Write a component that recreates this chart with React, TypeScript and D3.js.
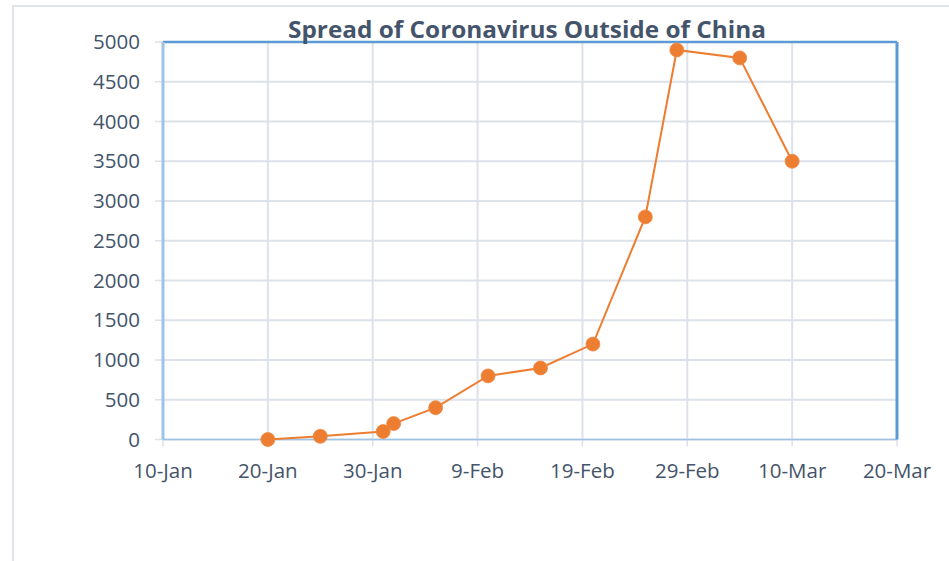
import React from "react";
import * as d3 from "d3";

const dates = ["2020-01-20", "2020-01-25", "2020-01-31", "2020-02-01", "2020-02-05", "2020-02-10", "2020-02-15", "2020-02-20", "2020-02-25", "2020-02-28", "2020-03-05", "2020-03-10"];
const cases = [0, 40, 100, 200, 400, 800, 900, 1200, 2800, 4900, 4800, 3500];
const yTicks = [0, 500, 1000, 1500, 2000, 2500, 3000, 3500, 4000, 4500, 5000];
const xTickDates = ["2020-01-10", "2020-01-20", "2020-01-30", "2020-02-09", "2020-02-19", "2020-02-29", "2020-03-10", "2020-03-20"];
const title = "Spread of Coronavirus Outside of China";

const parse = d3.utcParse("%Y-%m-%d");
const fmt = d3.utcFormat("%-d-%b");

export default function App() {
  const W = 949, H = 561;
  const left = 163, right = 897, top = 42, bottom = 439.5;
  const x = d3.scaleUtc().domain([parse(xTickDates[0])!, parse(xTickDates[xTickDates.length - 1])!]).range([left, right]);
  const y = d3.scaleLinear().domain([0, 5000]).range([bottom, top]);
  const pts = dates.map((d, i) => [x(parse(d)!), y(cases[i])] as [number, number]);
  const line = d3.line<[number, number]>()(pts) || "";
  const textColor = "#44546a";
  const grid = "#dde2ea";
  const font = "'Open Sans', sans-serif";
  return (
    <svg width={W} height={H} style={{ position: "fixed", left: 0, top: 0, background: "#fff" }}>
      <rect x={13} y={6} width={W + 20} height={H + 20} fill="#fff" stroke="#e1e5ea" strokeWidth={2} />
      {yTicks.map((t) => (
        <line key={"gy" + t} x1={left} x2={right} y1={y(t)} y2={y(t)} stroke={grid} strokeWidth={2} />
      ))}
      {xTickDates.map((d) => (
        <line key={"gx" + d} x1={x(parse(d)!)} x2={x(parse(d)!)} y1={top} y2={bottom} stroke={grid} strokeWidth={2} />
      ))}
      {yTicks.map((t) => (
        <line key={"ty" + t} x1={155} x2={left} y1={y(t)} y2={y(t)} stroke={grid} strokeWidth={1.5} />
      ))}
      {xTickDates.map((d) => (
        <line key={"tx" + d} x1={x(parse(d)!)} x2={x(parse(d)!)} y1={bottom} y2={bottom + 7} stroke={grid} strokeWidth={1.5} />
      ))}
      <line x1={left} x2={right} y1={bottom} y2={bottom} stroke="#9dc3e6" strokeWidth={1.5} />
      <line x1={left} x2={right} y1={top} y2={top} stroke="#5b9bd5" strokeWidth={2.5} />
      <line x1={left} x2={left} y1={top} y2={bottom} stroke="#9dc3e6" strokeWidth={3} />
      <line x1={right} x2={right} y1={top} y2={bottom} stroke="#5b9bd5" strokeWidth={3} />
      <path d={line} fill="none" stroke="#ed7d31" strokeWidth={2} />
      {pts.map((p, i) => (
        <circle key={i} cx={p[0]} cy={p[1]} r={7} fill="#ed7d31" stroke="#f08a45" strokeWidth={0.8} />
      ))}
      {yTicks.map((t) => (
        <text key={"ly" + t} x={140} y={y(t)} dy="0.35em" textAnchor="end" fontFamily={font} fontSize={20.5} fill={textColor}>
          {t}
        </text>
      ))}
      {xTickDates.map((d) => (
        <text key={"lx" + d} x={x(parse(d)!)} y={477.5} textAnchor="middle" fontFamily={font} fontSize={20.5} fill={textColor}>
          {fmt(parse(d)!)}
        </text>
      ))}
      <text x={527} y={37.5} textAnchor="middle" fontFamily={font} fontWeight="bold" fontSize={23} fill={textColor} textLength={478} lengthAdjust="spacingAndGlyphs">
        {title}
      </text>
    </svg>
  );
}
